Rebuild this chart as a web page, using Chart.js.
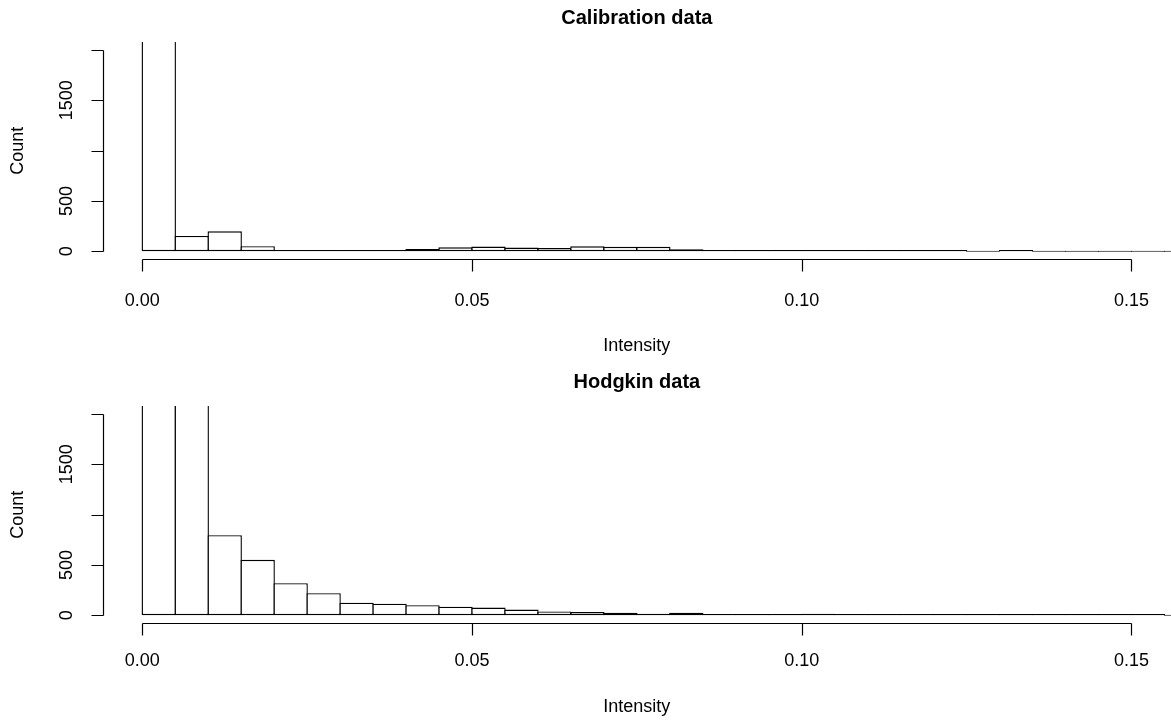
<!DOCTYPE html>
<html>
<head>
<meta charset="utf-8">
<script src="https://cdn.jsdelivr.net/npm/chart.js@4.4.1/dist/chart.umd.min.js"></script>
<style>
  html, body { margin: 0; padding: 0; background: #fff; }
  .panel { position: absolute; left: 0; width: 1171px; height: 358px; }
</style>
</head>
<body>
<div class="panel" style="top:0"><canvas id="calib"></canvas></div>
<div class="panel" style="top:364px"><canvas id="hodgkin"></canvas></div>
<script>
// histogram bins, width 0.005 (midpoints)
const binMids = [0.0025, 0.0075, 0.0125, 0.0175, 0.0225, 0.0275, 0.0325, 0.0375,
                 0.0425, 0.0475, 0.0525, 0.0575, 0.0625, 0.0675, 0.0725, 0.0775,
                 0.0825, 0.0875, 0.0925, 0.0975, 0.1025, 0.1075, 0.1125, 0.1175,
                 0.1225, 0.1275, 0.1325, 0.1375, 0.1425, 0.1475, 0.1525, 0.1575];

// counts (first bins run off the top of the plot)
const calibrationCounts = [9500, 152, 199, 50, 10, 5, 1, 3,
                           22, 40, 47, 37, 33, 49, 44, 44,
                           20, 10, 7, 6, 2, 1, 1, 3,
                           1, 0, 1, 0, 0, 0, 0, 0];
const hodgkinCounts = [12000, 4200, 796, 551, 319, 219, 125, 115,
                       100, 85, 77, 56, 38, 33, 25, 15,
                       25, 5, 10, 12, 15, 7, 5, 2,
                       6, 5, 2, 1, 3, 1, 1, 0];

const xTicks = [0, 0.05, 0.10, 0.15];
const xTickLabels = ['0.00', '0.05', '0.10', '0.15'];
const yTicks = [0, 500, 1000, 1500, 2000];
const yTickLabels = ['0', '500', '', '1500', ''];

const FONT = '"Liberation Sans", Arial, Helvetica, sans-serif';

// R style detached axes, drawn from the chart's own scales
const rAxes = {
  id: 'rAxes',
  afterDraw(chart, args, opts) {
    const { ctx, chartArea: a, scales: { x, y } } = chart;
    ctx.save();
    ctx.strokeStyle = '#000';
    ctx.fillStyle = '#000';
    ctx.lineWidth = 1.2;

    // y axis
    const yl = Math.round(a.left) + 0.5;
    ctx.beginPath();
    ctx.moveTo(yl, Math.round(y.getPixelForValue(yTicks[0])) + 0.5);
    ctx.lineTo(yl, Math.round(y.getPixelForValue(yTicks[yTicks.length - 1])) + 0.5);
    yTicks.forEach(v => {
      const p = Math.round(y.getPixelForValue(v)) + 0.5;
      ctx.moveTo(yl, p);
      ctx.lineTo(yl - 12, p);
    });
    ctx.stroke();

    ctx.font = '18px ' + FONT;
    ctx.textAlign = 'center';
    ctx.textBaseline = 'middle';
    yTicks.forEach((v, i) => {
      if (!yTickLabels[i]) return;
      ctx.save();
      ctx.translate(a.left - 36, y.getPixelForValue(v));
      ctx.rotate(-Math.PI / 2);
      ctx.fillText(yTickLabels[i], 0, 0);
      ctx.restore();
    });

    // x axis
    const xb = Math.round(a.bottom) + 0.5;
    ctx.beginPath();
    ctx.moveTo(Math.round(x.getPixelForValue(xTicks[0])) + 0.5, xb);
    ctx.lineTo(Math.round(x.getPixelForValue(xTicks[xTicks.length - 1])) + 0.5, xb);
    xTicks.forEach(v => {
      const p = Math.round(x.getPixelForValue(v)) + 0.5;
      ctx.moveTo(p, xb);
      ctx.lineTo(p, xb + 12);
    });
    ctx.stroke();
    xTicks.forEach((v, i) => {
      ctx.fillText(xTickLabels[i], x.getPixelForValue(v), a.bottom + opts.tickLabelGap);
    });

    // axis titles and main title
    const cx = (a.left + a.right) / 2;
    ctx.font = '18px ' + FONT;
    ctx.fillText(opts.xLabel, cx, opts.xLabelY);
    ctx.save();
    ctx.translate(18, (a.top + a.bottom) / 2);
    ctx.rotate(-Math.PI / 2);
    ctx.fillText(opts.yLabel, 0, 0);
    ctx.restore();

    ctx.font = 'bold 20px ' + FONT;
    ctx.fillText(opts.main, cx, opts.mainY);
    ctx.restore();
  }
};

function makeHist(id, counts, main, labelY, tickGap) {
  return new Chart(document.getElementById(id), {
    type: 'bar',
    data: {
      datasets: [{
        label: main,
        data: binMids.map((m, i) => ({ x: m, y: counts[i] })),
        backgroundColor: '#ffffff',
        borderColor: '#000000',
        borderWidth: 1.4,
        borderSkipped: false,
        minBarLength: 1.2,
        barPercentage: 1.0425,
        categoryPercentage: 1,
        clip: 0
      }]
    },
    options: {
      responsive: true,
      maintainAspectRatio: false,
      devicePixelRatio: 1,
      animation: false,
      layout: { padding: { left: 102.7, top: 42, right: 0, bottom: 98.7 } },
      scales: {
        x: { type: 'linear', min: -0.006, max: 0.156, offset: false, display: false,
             afterBuildTicks: s => { s.ticks = xTicks.map(v => ({ value: v })); } },
        y: { type: 'linear', min: -80, max: 2080, display: false }
      },
      plugins: {
        legend: { display: false },
        tooltip: { enabled: false },
        rAxes: { main: main, mainY: 18, xLabel: 'Intensity', xLabelY: labelY,
                 yLabel: 'Count', tickLabelGap: tickGap }
      }
    },
    plugins: [rAxes]
  });
}

makeHist('calib', calibrationCounts, 'Calibration data', 346, 42);
makeHist('hodgkin', hodgkinCounts, 'Hodgkin data', 343, 38);
</script>
</body>
</html>
